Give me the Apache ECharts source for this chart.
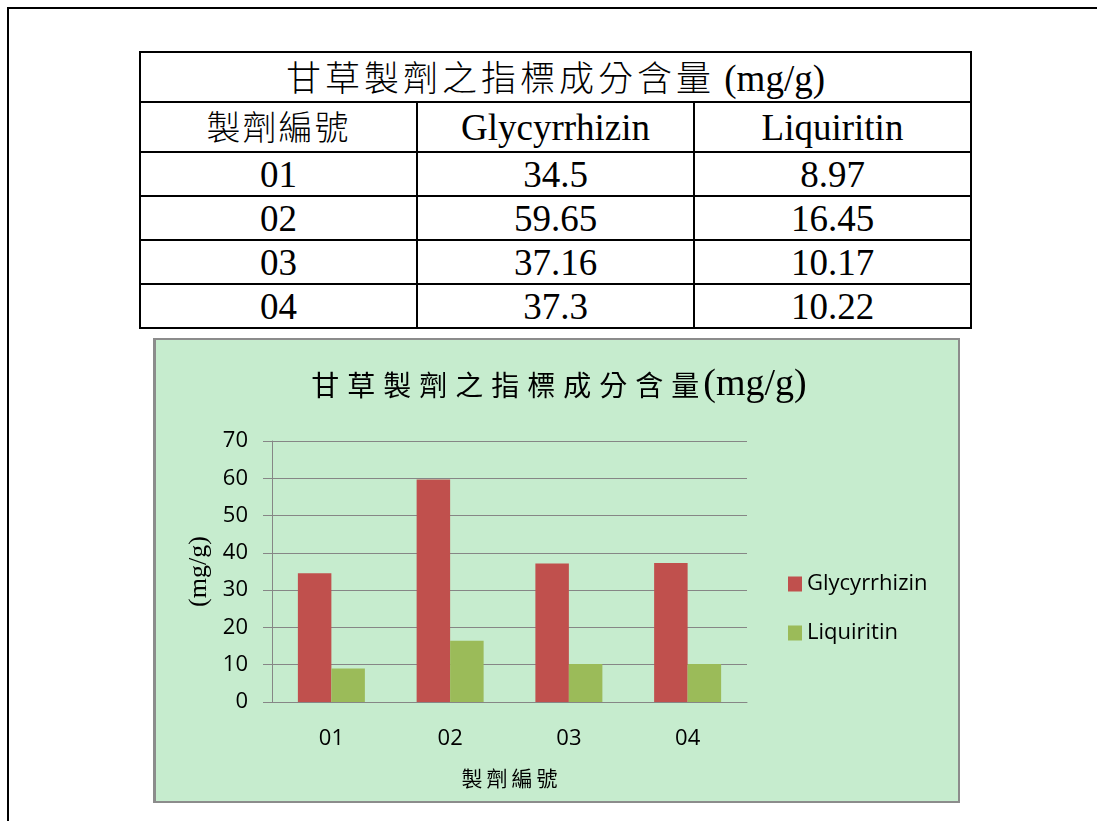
<!DOCTYPE html>
<html>
<head>
<meta charset="utf-8">
<title>甘草製劑之指標成分含量</title>
<script src="https://cdn.jsdelivr.net/npm/echarts@6/dist/echarts.min.js"></script>
<style>
  html, body { margin: 0; padding: 0; background: #fff; width: 1097px; height: 821px; overflow: hidden; position: relative; }
  #frame { position: absolute; left: 7px; top: 7px; width: 1200px; height: 900px; border-left: 2px solid #000; border-top: 2px solid #000; }
  #sheet { position: absolute; left: 139px; top: 51px; border-collapse: collapse; table-layout: fixed;
           font-family: "Liberation Serif", "Times New Roman", serif; font-size: 37px; color: #000; }
  #sheet td { border: 2px solid #000; text-align: center; vertical-align: middle; padding: 0; line-height: 1; white-space: nowrap; }
  #sheet .cjk { font-family: "Noto Sans CJK TC", sans-serif; font-weight: 300; }
  #sheet .head-cjk { font-size: 34px; letter-spacing: 2px; }
  #sheet .title-cjk { font-size: 35px; letter-spacing: 4px; }
  #chart { position: absolute; left: 153px; top: 338px; width: 807px; height: 465px; box-sizing: border-box;
           border: 2px solid #8c8c8c; border-left-width: 3px; background: #c6ecce; }
</style>
</head>
<body>
<div id="frame"></div>
<table id="sheet"></table>
<div id="chart"></div>
<script>
// Table and chart data
const titleText = '甘草製劑之指標成分含量';
const unitText = '(mg/g)';
const idHeader = '製劑編號';
const categories = ['01', '02', '03', '04'];
const seriesNames = ['Glycyrrhizin', 'Liquiritin'];
const glycyrrhizin = [34.5, 59.65, 37.16, 37.3];
const liquiritin = [8.97, 16.45, 10.17, 10.22];

// ---- content table ----
(function buildTable() {
  const t = document.getElementById('sheet');
  let html = '<colgroup><col style="width:277px"><col style="width:277px"><col style="width:277px"></colgroup>';
  html += '<tr style="height:50px"><td colspan="3"><span class="cjk title-cjk">' + titleText + '</span> ' + unitText + '</td></tr>';
  html += '<tr style="height:50px"><td><span class="cjk head-cjk">' + idHeader + '</span></td><td>' +
          seriesNames[0] + '</td><td>' + seriesNames[1] + '</td></tr>';
  categories.forEach((c, i) => {
    html += '<tr style="height:44px"><td>' + c + '</td><td>' + String(glycyrrhizin[i]) + '</td><td>' + String(liquiritin[i]) + '</td></tr>';
  });
  t.innerHTML = html;
})();

// ---- bar chart ----
const spaced = (s, key) => s.split('').map(ch => '{' + key + '|' + ch + '}').join('');
const sans = 'Open Sans';

const chart = echarts.init(document.getElementById('chart'), null, { renderer: 'canvas' });
chart.setOption({
  animation: false,
  backgroundColor: 'transparent',
  textStyle: { fontFamily: sans },
  title: {
    text: spaced(titleText, 'c') + '{u|' + unitText + '}',
    left: 'center',
    top: 21,
    textStyle: {
      fontWeight: 'normal',
      rich: {
        c: { fontFamily: 'Noto Sans CJK TC', fontWeight: 'normal', fontSize: 28, color: '#000', padding: [0, 4, 0, 4] },
        u: { fontFamily: 'Liberation Serif', fontWeight: 'normal', fontSize: 38, color: '#000' }
      }
    }
  },
  legend: {
    orient: 'vertical',
    left: 627,
    top: 228,
    icon: 'rect',
    itemWidth: 14,
    itemHeight: 15,
    itemGap: 27,
    itemTextGap: 6,
    selectedMode: false,
    textStyle: { fontFamily: sans, fontSize: 22, color: '#000' },
    data: seriesNames
  },
  grid: { left: 116, top: 101, width: 475, height: 261, outerBoundsMode: 'none' },
  xAxis: {
    type: 'category',
    data: categories,
    axisLine: { show: true, lineStyle: { color: '#868686', width: 1 } },
    axisTick: { show: false },
    axisLabel: { margin: 26, fontFamily: sans, fontSize: 22, color: '#000' },
    name: spaced(idHeader, 'c'),
    nameLocation: 'middle',
    nameGap: 66,
    nameTextStyle: {
      rich: { c: { fontFamily: 'Noto Sans CJK TC', fontWeight: 'normal', fontSize: 21, color: '#000', padding: [0, 2, 0, 2] } }
    }
  },
  yAxis: {
    type: 'value',
    min: 0,
    max: 70,
    interval: 10,
    axisLine: { show: true, lineStyle: { color: '#868686', width: 1 } },
    axisTick: { show: true, length: 9, lineStyle: { color: '#868686', width: 1 } },
    splitLine: { show: true, lineStyle: { color: '#868686', width: 1 } },
    axisLabel: { margin: 24, fontFamily: sans, fontSize: 22, color: '#000' },
    name: unitText,
    nameLocation: 'middle',
    nameRotate: 90,
    nameGap: 57,
    nameTextStyle: { fontFamily: 'Liberation Serif', fontSize: 26, color: '#000' }
  },
  series: [
    { name: seriesNames[0], type: 'bar', data: glycyrrhizin, barWidth: 33.5, barGap: '0%', itemStyle: { color: '#C0504D' } },
    { name: seriesNames[1], type: 'bar', data: liquiritin, barWidth: 33.5, barGap: '0%', itemStyle: { color: '#9BBB59' } }
  ]
});
</script>
</body>
</html>
